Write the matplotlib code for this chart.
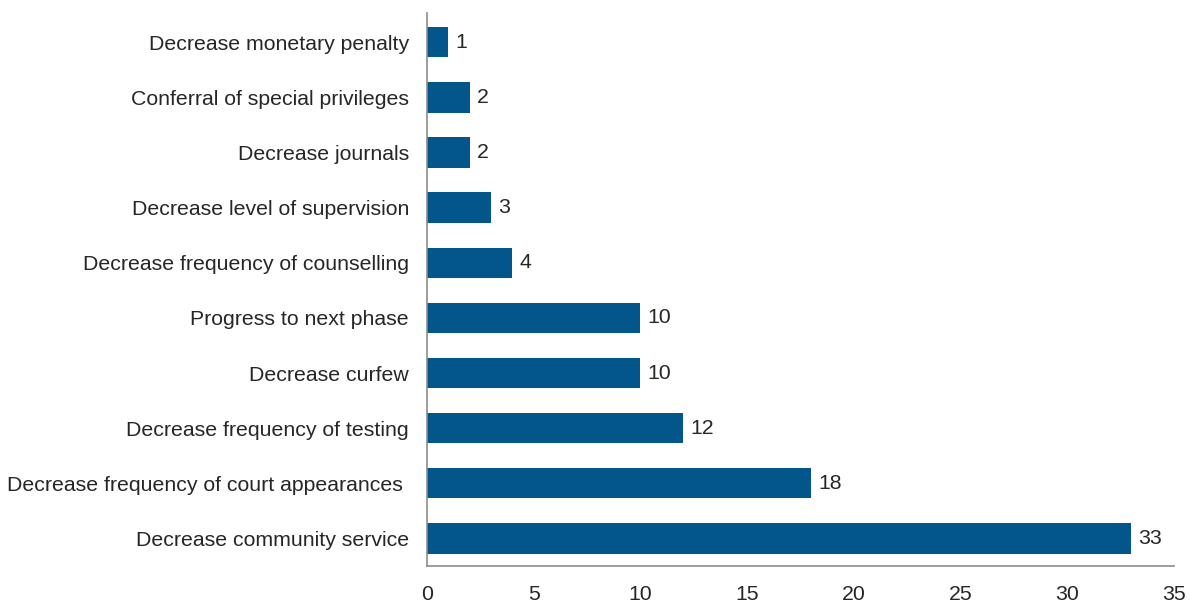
"""Horizontal bar chart of incentive types, counts per category."""

import matplotlib.pyplot as plt

categories = [
    'Decrease community service',
    'Decrease frequency of court appearances ',
    'Decrease frequency of testing',
    'Decrease curfew',
    'Progress to next phase',
    'Decrease frequency of counselling',
    'Decrease level of supervision',
    'Decrease journals',
    'Conferral of special privileges',
    'Decrease monetary penalty',
]
counts = [33, 18, 12, 10, 10, 4, 3, 2, 2, 1]
x_ticks = [0, 5, 10, 15, 20, 25, 30, 35]

BAR_COLOR = '#02568a'
TEXT_COLOR = '#262626'
SPINE_COLOR = '#8c8c8c'
FS = 15.3

plt.rcParams['font.family'] = ['Liberation Sans', 'DejaVu Sans']

fig = plt.figure(figsize=(11.94, 6.04), dpi=100)
ax = fig.add_axes([0.3576, 0.0629, 0.6256, 0.9156])

ypos = list(range(len(categories)))
bars = ax.barh(ypos, counts, height=0.55, color=BAR_COLOR)

# value labels at the end of each bar
for y, v in zip(ypos, counts):
    ax.text(v + 0.33, y, str(v), va='center', ha='left',
            fontsize=FS, color=TEXT_COLOR)

ax.set_yticks(ypos)
ax.set_yticklabels(categories, fontsize=FS, color=TEXT_COLOR)
ax.set_xticks(x_ticks)
ax.set_xticklabels([str(t) for t in x_ticks], fontsize=FS, color=TEXT_COLOR)
ax.set_xlim(0, 35)
ax.set_ylim(-0.5, 9.53)

ax.tick_params(axis='both', length=0)
ax.tick_params(axis='x', pad=14)
ax.tick_params(axis='y', pad=13)

for side in ['top', 'right']:
    ax.spines[side].set_visible(False)
for side in ['left', 'bottom']:
    ax.spines[side].set_color(SPINE_COLOR)
    ax.spines[side].set_linewidth(1.2)

fig.savefig('out.png', dpi=100)
